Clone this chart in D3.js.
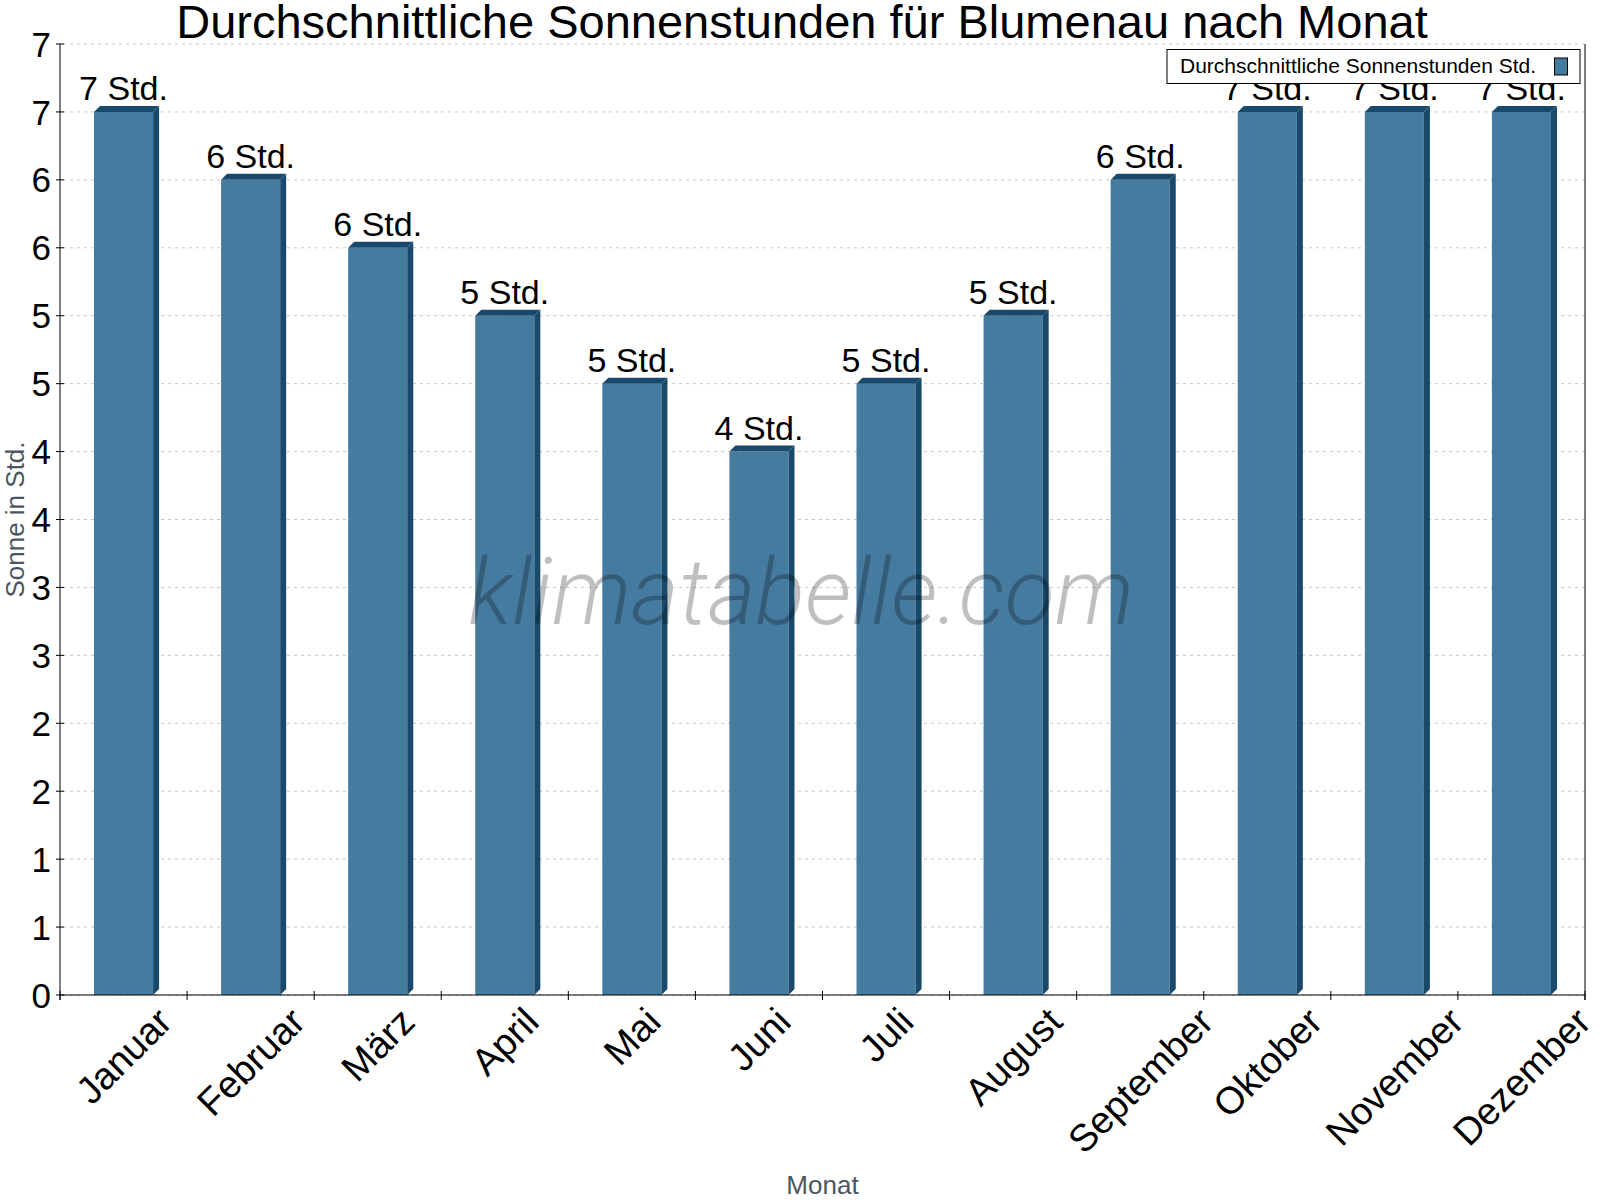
<!DOCTYPE html>
<html>
<head>
<meta charset="utf-8">
<script src="https://cdn.jsdelivr.net/npm/d3@7"></script>
<style>
  body { margin: 0; background: #fff; }
  svg { font-family: "Liberation Sans", Arial, sans-serif; }
</style>
</head>
<body>
<svg id="chart"></svg>
<script>
// data
var months = ["Januar", "Februar", "März", "April", "Mai", "Juni", "Juli", "August", "September", "Oktober", "November", "Dezember"];
var sunHours = [6.5, 6.0, 5.5, 5.0, 4.5, 4.0, 4.5, 5.0, 6.0, 6.5, 6.5, 6.5];
var yTicks = [0, 0.5, 1, 1.5, 2, 2.5, 3, 3.5, 4, 4.5, 5, 5.5, 6, 6.5, 7];
var yTickLabels = ["0", "1", "1", "2", "2", "3", "3", "4", "4", "5", "5", "6", "6", "7", "7"];
var title = "Durchschnittliche Sonnenstunden für Blumenau nach Monat";
var legendLabel = "Durchschnittliche Sonnenstunden Std.";

var width = 1600, height = 1200;
var margin = { top: 44, right: 15, bottom: 205, left: 60 };

var frontColor = "#467ba0",
    darkColor = "#194a6b",
    depth = 6;

var svg = d3.select("#chart")
    .attr("width", width)
    .attr("height", height);

var x = d3.scaleBand()
    .domain(months)
    .range([margin.left, width - margin.right])
    .paddingInner(0)
    .paddingOuter(0);

var y = d3.scaleLinear()
    .domain([0, 7])
    .range([height - margin.bottom, margin.top]);

var x0 = x.range()[0], x1 = x.range()[1];
var yBottom = y(0), yTop = y(7);

//dashed grid lines
svg.append("g")
    .selectAll("line")
    .data(yTicks)
    .enter().append("line")
    .attr("x1", x0 + 3)
    .attr("x2", x1)
    .attr("y1", function (d) { return y(d); })
    .attr("y2", function (d) { return y(d); })
    .attr("stroke", "#c8c8c8")
    .attr("stroke-width", 1)
    .attr("stroke-dasharray", "3,4");

//bars
var bw = x.bandwidth() * 0.465;
var bars = svg.append("g")
    .selectAll(".bar")
    .data(sunHours)
    .enter().append("g")
    .attr("class", "bar");

bars.append("rect")
    .attr("x", function (d, i) { return x(months[i]) + x.bandwidth() / 2 - bw / 2; })
    .attr("y", function (d) { return y(d); })
    .attr("width", bw)
    .attr("height", function (d) { return yBottom - y(d); })
    .attr("fill", frontColor);

//top face
bars.append("path")
    .attr("d", function (d, i) {
        var l = x(months[i]) + x.bandwidth() / 2 - bw / 2, r = l + bw, t = y(d);
        return "M" + l + "," + t + "L" + (l + depth) + "," + (t - depth) +
            "L" + (r + depth) + "," + (t - depth) + "L" + r + "," + t + "Z";
    })
    .attr("fill", darkColor);

//side face
bars.append("path")
    .attr("d", function (d, i) {
        var r = x(months[i]) + x.bandwidth() / 2 + bw / 2, t = y(d);
        return "M" + r + "," + t + "L" + (r + depth) + "," + (t - depth) +
            "L" + (r + depth) + "," + (yBottom - depth) + "L" + r + "," + yBottom + "Z";
    })
    .attr("fill", darkColor);

//value labels
bars.append("text")
    .attr("x", function (d, i) { return x(months[i]) + x.bandwidth() / 2; })
    .attr("y", function (d) { return y(d) - 12; })
    .attr("text-anchor", "middle")
    .style("font-size", "34px")
    .style("fill", "#000")
    .text(function (d) { return Math.round(d) + " Std."; });

//watermark, drawn over the bars
svg.append("text")
    .attr("x", 801)
    .attr("y", 624)
    .attr("text-anchor", "middle")
    .style("font-family", "Roboto, 'Open Sans', sans-serif")
    .style("font-weight", 300)
    .style("font-style", "italic")
    .style("font-size", "92px")
    .style("fill", "#000")
    .style("fill-opacity", 0.25)
    .text("klimatabelle.com");

//y axis
var yAxis = svg.append("g");
yAxis.append("line")
    .attr("x1", x0).attr("x2", x0)
    .attr("y1", yTop).attr("y2", yBottom + 5)
    .attr("stroke", "#000");
yAxis.selectAll(".ytick")
    .data(yTicks)
    .enter().append("line")
    .attr("x1", x0 - 4).attr("x2", x0 + 4)
    .attr("y1", function (d) { return y(d); })
    .attr("y2", function (d) { return y(d); })
    .attr("stroke", "#000");
yAxis.selectAll(".ylabel")
    .data(yTicks)
    .enter().append("text")
    .attr("x", x0 - 9)
    .attr("y", function (d) { return y(d); })
    .attr("dy", "0.36em")
    .attr("text-anchor", "end")
    .style("font-size", "35px")
    .text(function (d, i) { return yTickLabels[i]; });

//right border line
svg.append("line")
    .attr("x1", x1).attr("x2", x1)
    .attr("y1", yTop).attr("y2", yBottom + 5)
    .attr("stroke", "#000");

//x axis
var xAxis = svg.append("g");
xAxis.append("line")
    .attr("x1", x0).attr("x2", x1)
    .attr("y1", yBottom).attr("y2", yBottom)
    .attr("stroke", "#000");
xAxis.selectAll(".xtick")
    .data(months.concat(["end"]))
    .enter().append("line")
    .attr("x1", function (d, i) { return x0 + i * x.step(); })
    .attr("x2", function (d, i) { return x0 + i * x.step(); })
    .attr("y1", yBottom - 4)
    .attr("y2", yBottom + 5)
    .attr("stroke", "#000");

var xFont = 38;
var xl = xAxis.selectAll(".xlabel")
    .data(months)
    .enter().append("text")
    .attr("text-anchor", "middle")
    .attr("dy", "0.35em")
    .style("font-size", xFont + "px")
    .text(function (d) { return d; });

//rotated labels: bounding box centred under the band, top fixed
xl.attr("transform", function (d) {
    var w = this.getComputedTextLength();
    var h = xFont * 0.72;
    var half = (w + h) * Math.SQRT1_2 / 2;
    var cx = x(d) + x.bandwidth() / 2;
    return "translate(" + cx + "," + (yBottom + 10 + half) + ") rotate(-45)";
});

//axis titles
svg.append("text")
    .attr("x", (x0 + x1) / 2)
    .attr("y", 1194)
    .attr("text-anchor", "middle")
    .style("font-size", "26px")
    .style("fill", "#4b5561")
    .text("Monat");

svg.append("text")
    .attr("transform", "translate(24," + ((yTop + yBottom) / 2) + ") rotate(-90)")
    .attr("text-anchor", "middle")
    .style("font-size", "26px")
    .style("fill", "#4b5561")
    .text("Sonne in Std.");

//title
svg.append("text")
    .attr("x", 802)
    .attr("y", 38)
    .attr("text-anchor", "middle")
    .style("font-size", "47px")
    .style("fill", "#000")
    .text(title);

//legend
var legend = svg.append("g");
legend.append("rect")
    .attr("x", 1167).attr("y", 49.5)
    .attr("width", 413).attr("height", 34)
    .attr("fill", "#fff")
    .attr("stroke", "#000");
legend.append("text")
    .attr("x", 1180).attr("y", 73)
    .style("font-size", "21px")
    .text(legendLabel);
legend.append("rect")
    .attr("x", 1554.5).attr("y", 58)
    .attr("width", 13).attr("height", 17)
    .attr("fill", frontColor)
    .attr("stroke", "#000");
</script>
</body>
</html>
